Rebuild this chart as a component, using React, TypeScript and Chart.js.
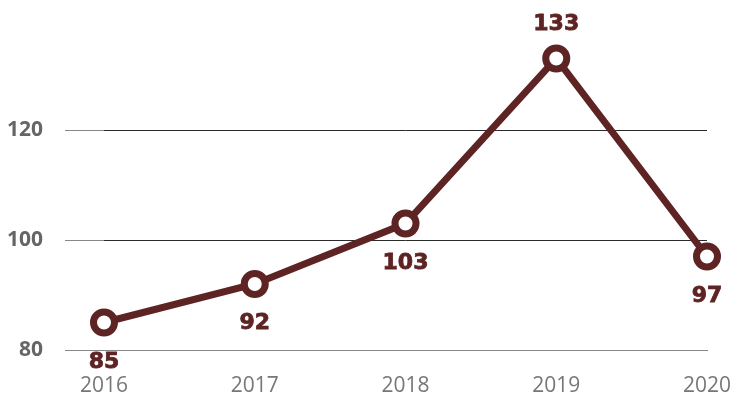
import React, { useEffect, useRef } from "react";
import { Chart, registerables } from "chart.js";

Chart.register(...registerables);

const years = ["2016", "2017", "2018", "2019", "2020"];
const values = [85, 92, 103, 133, 97];
const labelPositions = ["below", "below", "below", "above", "below"];
const yTicks = [80, 100, 120];

const MAROON = "#5e2323";

const dataLabelPlugin = {
  id: "dataLabels",
  afterDatasetsDraw(chart: any) {
    const ctx = chart.ctx;
    const meta = chart.getDatasetMeta(0);
    ctx.save();
    ctx.font = "bold 22px 'DejaVu Sans'";
    ctx.fillStyle = MAROON;
    ctx.strokeStyle = MAROON;
    ctx.lineWidth = 0.8;
    ctx.textAlign = "center";
    ctx.textBaseline = "alphabetic";
    meta.data.forEach((pt: any, i: number) => {
      const dy = labelPositions[i] === "above" ? -37 : 37;
      ctx.fillText(String(values[i]), pt.x, pt.y + dy + 8);
      ctx.strokeText(String(values[i]), pt.x, pt.y + dy + 8);
    });
    ctx.restore();
  },
};

export default function App() {
  const ref = useRef<HTMLCanvasElement | null>(null);
  useEffect(() => {
    if (!ref.current) return;
    const chart = new Chart(ref.current, {
      type: "line",
      data: {
        labels: years,
        datasets: [
          {
            data: values,
            borderColor: MAROON,
            borderWidth: 7,
            pointRadius: 10.5,
            pointHoverRadius: 10.5,
            pointBorderWidth: 7,
            pointBackgroundColor: "#ffffff",
            pointBorderColor: MAROON,
            tension: 0,
            clip: false as any,
          },
        ],
      },
      options: {
        animation: false,
        responsive: false,
        layout: { padding: { top: 20, right: 28, left: 0, bottom: 0 } },
        plugins: { legend: { display: false }, tooltip: { enabled: false } },
        scales: {
          x: {
            offset: false,
            grid: { display: false, drawTicks: false },
            border: { display: true, color: "#888888", width: 1 },
            ticks: {
              color: "#777777",
              font: { family: "'Open Sans'", size: 21, weight: "normal" },
              padding: 23,
              maxRotation: 0,
            },
            afterFit: (s: any) => {
              s.height = 49;
              s.paddingLeft = 0;
              s.paddingRight = 0;
            },
          },
          y: {
            min: 80,
            max: 140,
            afterBuildTicks: (s: any) => {
              s.ticks = yTicks.map((v) => ({ value: v }));
            },
            grid: {
              color: (c: any) => (c.tick && c.tick.value === 80 ? "#888888" : "#2a2a2a"),
              tickColor: "#888888",
              tickLength: 39,
              lineWidth: 1,
            },
            border: { display: false },
            ticks: {
              color: "#666666",
              font: { family: "'Open Sans'", size: 21, weight: "bold" },
              padding: 22,
            },
            afterFit: (s: any) => {
              s.width = 104;
              s.paddingTop = 0;
              s.paddingBottom = 0;
            },
          },
        },
      },
      plugins: [dataLabelPlugin],
    });
    return () => chart.destroy();
  }, []);
  return (
    <div style={{ position: "fixed", left: 0, top: 0, width: 735, height: 399, background: "#fff" }}>
      <canvas ref={ref} width={735} height={399} style={{ display: "block" }} />
    </div>
  );
}
